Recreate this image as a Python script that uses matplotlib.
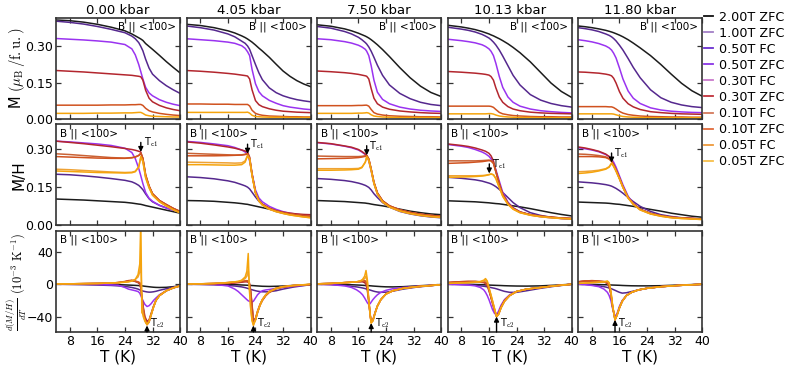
import matplotlib
matplotlib.use('Agg')
import matplotlib.pyplot as plt
from matplotlib.lines import Line2D

plt.rcParams['font.family'] = ['DejaVu Sans']
plt.rcParams['mathtext.fontset'] = 'cm'

pressures = ['0.00 kbar', '4.05 kbar', '7.50 kbar', '10.13 kbar', '11.80 kbar']
legend_labels = ['2.00T ZFC', '1.00T ZFC', '0.50T FC', '0.50T ZFC', '0.30T FC',
                 '0.30T ZFC', '0.10T FC', '0.10T ZFC', '0.05T FC', '0.05T ZFC']
legend_colors = ['#111111', '#a27fc6', '#6a2fd0', '#8a35e6', '#c97acb',
                 '#c0303a', '#d47a5c', '#e06a3a', '#ee9a3c', '#f7bf4a']
tc1_values = [28.6, 21.7, 18.4, 16.1, 13.7]
tc1_tips = [0.290, 0.283, 0.277, 0.205, 0.248]
tc2_values = [30.4, 23.4, 19.7, 18.2, 14.7]
tc2_tips = [-51, -51, -48, -40, -44]

# ---------------- 0.00 kbar ----------------
T_P0 = [4, 8, 12, 16, 20, 24, 26, 27, 28, 28.6, 29.2, 30, 31, 32, 34, 36, 38, 40]
M_P0_2T = [0.410, 0.407, 0.401, 0.392, 0.380, 0.365, 0.352, 0.344, 0.336, 0.331, 0.325, 0.312, 0.300, 0.288, 0.263, 0.237, 0.213, 0.190]
M_P0_1T = [0.405, 0.400, 0.393, 0.383, 0.371, 0.357, 0.343, 0.332, 0.316, 0.300, 0.282, 0.247, 0.210, 0.185, 0.158, 0.137, 0.120, 0.105]
M_P0_05T = [0.333, 0.330, 0.327, 0.323, 0.318, 0.308, 0.290, 0.265, 0.225, 0.195, 0.165, 0.130, 0.107, 0.095, 0.079, 0.068, 0.060, 0.054]
M_P0_03T = [0.200, 0.197, 0.194, 0.190, 0.186, 0.182, 0.180, 0.178, 0.176, 0.174, 0.160, 0.118, 0.085, 0.070, 0.055, 0.045, 0.038, 0.033]
M_P0_01T = [0.056, 0.056, 0.056, 0.056, 0.057, 0.057, 0.058, 0.058, 0.059, 0.059, 0.055, 0.043, 0.033, 0.028, 0.022, 0.018, 0.015, 0.013]
M_P0_005T = [0.022, 0.022, 0.022, 0.023, 0.023, 0.024, 0.024, 0.025, 0.026, 0.026, 0.022, 0.015, 0.012, 0.010, 0.009, 0.008, 0.007, 0.007]
MH_P0_2T = [0.104, 0.102, 0.100, 0.097, 0.094, 0.091, 0.088, 0.086, 0.084, 0.083, 0.081, 0.078, 0.075, 0.072, 0.066, 0.060, 0.054, 0.048]
MH_P0_1T = [0.202, 0.200, 0.196, 0.191, 0.185, 0.178, 0.172, 0.166, 0.158, 0.150, 0.141, 0.124, 0.105, 0.093, 0.079, 0.069, 0.060, 0.053]
MH_P0_05T = [0.333, 0.330, 0.326, 0.322, 0.316, 0.305, 0.288, 0.264, 0.225, 0.196, 0.165, 0.130, 0.107, 0.095, 0.079, 0.068, 0.060, 0.054]
MH_P0_03T = [0.333, 0.328, 0.323, 0.317, 0.311, 0.304, 0.300, 0.297, 0.293, 0.290, 0.262, 0.195, 0.155, 0.125, 0.098, 0.082, 0.067, 0.054]
MH_P0_01T_ZFC = [0.272, 0.270, 0.268, 0.266, 0.265, 0.265, 0.267, 0.270, 0.276, 0.284, 0.265, 0.200, 0.155, 0.125, 0.098, 0.082, 0.067, 0.055]
MH_P0_01T_FC = [0.283, 0.280, 0.276, 0.272, 0.268, 0.266, 0.268, 0.271, 0.277, 0.285, 0.266, 0.200, 0.155, 0.125, 0.098, 0.082, 0.067, 0.055]
MH_P0_005T_ZFC = [0.215, 0.213, 0.211, 0.209, 0.208, 0.207, 0.208, 0.212, 0.230, 0.272, 0.255, 0.190, 0.150, 0.120, 0.094, 0.077, 0.062, 0.050]
MH_P0_005T_FC = [0.222, 0.220, 0.217, 0.214, 0.211, 0.209, 0.210, 0.214, 0.232, 0.268, 0.252, 0.188, 0.148, 0.119, 0.093, 0.076, 0.061, 0.049]
TD_P0 = [4, 8, 12, 16, 20, 22, 24, 25, 26, 27, 27.8, 28.3, 28.6, 28.9, 29.3, 29.8, 30.4, 31, 31.6, 32.3, 33, 34, 36, 38, 40]
D_P0_2T = [0.5, 0.4, 0.2, 0, -0.3, -0.5, -0.8, -1, -1.2, -1.4, -1.6, -1.8, -1.9, -2, -2.2, -2.5, -2.8, -3.1, -3.4, -3.7, -3.9, -4, -3.8, -3.0, -2.0]
D_P0_1T = [0, -0.3, -0.6, -1, -1.5, -2, -2.8, -3.3, -4, -5, -6, -7, -7.5, -8, -8.5, -9, -9.5, -9.8, -9.7, -9.3, -8.7, -7.5, -5.5, -3.5, -2]
D_P0_05T = [0, 0, 0, -0.3, -0.8, -1.2, -4, -6, -7, -8, -9, -11, -14, -17, -21, -25, -27.5, -26.5, -24, -20, -17, -13, -8, -4.5, -2]
D_P0_03T = [0, 0.3, 0.6, 1, 1.5, 2, 3, 4, 4.5, 3.5, 2, 0, -5, -15, -28, -40, -46, -44, -36, -27, -20, -14, -8, -4.5, -2]
D_P0_01T_ZFC = [0.3, 0.5, 0.8, 1, 1.5, 2, 3.5, 4.5, 5, 4, 3, 2, -2, -15, -30, -44, -50, -47, -38, -28, -20, -14, -8, -4.5, -2]
D_P0_01T_FC = [0.3, 0.5, 0.8, 1, 1.5, 2, 3, 4, 4.5, 3.5, 2.5, 1.5, -3, -16, -31, -43, -49, -46, -37, -28, -20, -14, -8, -4.5, -2]
D_P0_005T_ZFC = [0.5, 0.5, 0.8, 1, 1.5, 2, 2.5, 3, 4, 6, 12, 25, 80, -35, -38, -45, -50, -46, -38, -28, -20, -14, -8, -4.5, -2]
D_P0_005T_FC = [0.5, 0.5, 0.8, 1, 1.5, 2, 2.5, 3, 4, 6, 9, 15, 30, -20, -40, -46, -50, -46, -38, -28, -20, -14, -8, -4.5, -2]

# ---------------- 4.05 kbar ----------------
T_P1 = [4, 8, 12, 16, 18, 20, 21, 21.7, 22.3, 23, 24, 25, 26, 28, 30, 32, 34, 36, 38, 40]
M_P1_2T = [0.392, 0.387, 0.378, 0.365, 0.356, 0.344, 0.337, 0.331, 0.325, 0.318, 0.306, 0.293, 0.281, 0.255, 0.226, 0.198, 0.176, 0.158, 0.144, 0.133]
M_P1_1T = [0.385, 0.378, 0.368, 0.352, 0.340, 0.322, 0.313, 0.302, 0.288, 0.262, 0.225, 0.190, 0.162, 0.128, 0.108, 0.095, 0.086, 0.079, 0.074, 0.070]
M_P1_05T = [0.332, 0.328, 0.324, 0.318, 0.313, 0.303, 0.292, 0.278, 0.262, 0.205, 0.145, 0.112, 0.095, 0.076, 0.064, 0.054, 0.048, 0.044, 0.040, 0.0375]
M_P1_03T = [0.200, 0.197, 0.193, 0.188, 0.185, 0.181, 0.179, 0.177, 0.165, 0.120, 0.075, 0.058, 0.050, 0.041, 0.035, 0.031, 0.029, 0.027, 0.026, 0.025]
M_P1_01T = [0.061, 0.061, 0.060, 0.060, 0.059, 0.059, 0.059, 0.059, 0.053, 0.035, 0.022, 0.017, 0.014, 0.011, 0.010, 0.009, 0.008, 0.008, 0.007, 0.007]
M_P1_005T = [0.026, 0.026, 0.026, 0.026, 0.026, 0.026, 0.026, 0.027, 0.023, 0.014, 0.009, 0.008, 0.007, 0.006, 0.006, 0.006, 0.005, 0.005, 0.005, 0.005]
MH_P1_2T = [0.098, 0.097, 0.095, 0.091, 0.089, 0.086, 0.084, 0.083, 0.081, 0.079, 0.076, 0.073, 0.070, 0.064, 0.056, 0.050, 0.044, 0.040, 0.036, 0.033]
MH_P1_1T = [0.192, 0.189, 0.184, 0.176, 0.170, 0.161, 0.156, 0.151, 0.144, 0.131, 0.112, 0.095, 0.084, 0.066, 0.055, 0.048, 0.043, 0.040, 0.037, 0.035]
MH_P1_05T = [0.332, 0.328, 0.322, 0.315, 0.308, 0.298, 0.290, 0.280, 0.255, 0.205, 0.140, 0.108, 0.093, 0.075, 0.063, 0.054, 0.048, 0.044, 0.040, 0.038]
MH_P1_03T = [0.330, 0.325, 0.318, 0.310, 0.305, 0.298, 0.294, 0.290, 0.270, 0.205, 0.130, 0.098, 0.083, 0.068, 0.058, 0.052, 0.048, 0.045, 0.043, 0.042]
MH_P1_01T_ZFC = [0.275, 0.275, 0.275, 0.276, 0.277, 0.278, 0.280, 0.283, 0.265, 0.200, 0.130, 0.098, 0.083, 0.067, 0.057, 0.050, 0.045, 0.041, 0.038, 0.036]
MH_P1_01T_FC = [0.285, 0.283, 0.281, 0.279, 0.278, 0.279, 0.281, 0.284, 0.266, 0.200, 0.130, 0.098, 0.083, 0.067, 0.057, 0.050, 0.045, 0.041, 0.038, 0.036]
MH_P1_005T_ZFC = [0.240, 0.240, 0.239, 0.238, 0.238, 0.240, 0.250, 0.275, 0.262, 0.198, 0.128, 0.096, 0.080, 0.064, 0.054, 0.047, 0.041, 0.037, 0.033, 0.030]
MH_P1_005T_FC = [0.250, 0.249, 0.248, 0.247, 0.246, 0.247, 0.255, 0.277, 0.263, 0.198, 0.128, 0.096, 0.080, 0.064, 0.054, 0.047, 0.041, 0.037, 0.033, 0.030]
TD_P1 = [4, 8, 12, 16, 18, 19, 20, 21, 21.5, 21.9, 22.2, 22.6, 23, 23.4, 24, 24.6, 25.3, 26, 27, 28, 30, 32, 35, 40]
D_P1_2T = [0, 0, 0, -0.3, -0.5, -0.7, -0.9, -1.1, -1.2, -1.3, -1.4, -1.5, -1.6, -1.7, -1.9, -2.1, -2.3, -2.5, -2.6, -2.7, -2.5, -2.2, -1.5, -0.5]
D_P1_1T = [0, -0.3, -0.7, -1.5, -2.2, -2.7, -3.3, -4.2, -4.8, -5.3, -5.8, -6.3, -6.8, -7.3, -8, -8.6, -9, -9.3, -9.4, -9.2, -8, -6, -3.5, -0.5]
D_P1_05T = [0, 0, -0.3, -2, -6, -9, -13, -17, -19, -20.5, -21, -21.5, -22, -21, -17, -13, -10, -8, -7, -6.5, -5, -4, -2.5, -0.5]
D_P1_03T = [0, 0.3, 0.6, 1, 1.5, 2, 2.5, 3, 3, 2.5, 1, -8, -25, -45, -42, -33, -25, -19, -13, -9, -5, -3, -1.5, -0.3]
D_P1_01T_ZFC = [0.3, 0.5, 1, 2, 2.5, 3, 3.5, 4, 4, 3.5, 2, -10, -28, -48, -44, -35, -26, -20, -14, -10, -5.5, -3.5, -1.8, -0.3]
D_P1_01T_FC = [0.3, 0.5, 1, 2, 2.5, 3, 3.5, 4, 4.5, 4, 2.5, -9, -27, -47, -44, -35, -26, -20, -14, -10, -5.5, -3.5, -1.8, -0.3]
D_P1_005T_ZFC = [0.3, 0.5, 1, 2, 3, 3.5, 5, 9, 16, 38, -5, -30, -45, -51, -44, -34, -26, -19, -13, -9, -5, -3, -1.5, 0]
D_P1_005T_FC = [0.3, 0.5, 1, 2, 3, 3.5, 4.5, 7, 10, 18, 0, -28, -44, -50, -44, -34, -26, -19, -13, -9, -5, -3, -1.5, 0]

# ---------------- 7.50 kbar ----------------
T_P2 = [4, 8, 12, 14, 16, 17, 18, 18.4, 19, 19.7, 20.5, 21.5, 23, 25, 28, 31, 34, 37, 40]
M_P2_2T = [0.390, 0.384, 0.373, 0.365, 0.355, 0.349, 0.343, 0.340, 0.335, 0.328, 0.319, 0.307, 0.287, 0.258, 0.212, 0.170, 0.135, 0.109, 0.092]
M_P2_1T = [0.383, 0.376, 0.362, 0.352, 0.338, 0.328, 0.316, 0.310, 0.298, 0.280, 0.255, 0.222, 0.180, 0.140, 0.105, 0.083, 0.068, 0.059, 0.054]
M_P2_05T = [0.332, 0.328, 0.320, 0.314, 0.305, 0.298, 0.288, 0.280, 0.262, 0.220, 0.160, 0.110, 0.080, 0.062, 0.048, 0.040, 0.035, 0.032, 0.030]
M_P2_03T = [0.198, 0.195, 0.191, 0.188, 0.184, 0.181, 0.178, 0.176, 0.165, 0.125, 0.085, 0.062, 0.048, 0.039, 0.032, 0.028, 0.025, 0.023, 0.022]
M_P2_01T = [0.054, 0.054, 0.054, 0.054, 0.055, 0.055, 0.056, 0.056, 0.052, 0.038, 0.025, 0.019, 0.015, 0.012, 0.010, 0.009, 0.008, 0.008, 0.007]
M_P2_005T = [0.022, 0.022, 0.022, 0.022, 0.023, 0.023, 0.024, 0.025, 0.023, 0.016, 0.011, 0.009, 0.007, 0.006, 0.005, 0.005, 0.005, 0.005, 0.004]
MH_P2_2T = [0.098, 0.096, 0.094, 0.092, 0.090, 0.089, 0.088, 0.087, 0.086, 0.084, 0.082, 0.080, 0.077, 0.072, 0.064, 0.056, 0.050, 0.045, 0.042]
MH_P2_1T = [0.185, 0.182, 0.177, 0.173, 0.167, 0.163, 0.158, 0.155, 0.150, 0.140, 0.125, 0.110, 0.090, 0.072, 0.055, 0.045, 0.038, 0.033, 0.030]
MH_P2_05T = [0.327, 0.322, 0.313, 0.307, 0.298, 0.290, 0.280, 0.273, 0.255, 0.215, 0.165, 0.125, 0.095, 0.076, 0.060, 0.050, 0.043, 0.038, 0.035]
MH_P2_03T = [0.328, 0.323, 0.314, 0.309, 0.300, 0.292, 0.282, 0.276, 0.262, 0.222, 0.170, 0.128, 0.097, 0.077, 0.061, 0.051, 0.044, 0.039, 0.036]
MH_P2_01T_ZFC = [0.263, 0.264, 0.265, 0.266, 0.268, 0.270, 0.273, 0.276, 0.262, 0.222, 0.170, 0.128, 0.097, 0.077, 0.061, 0.051, 0.044, 0.039, 0.036]
MH_P2_01T_FC = [0.274, 0.273, 0.272, 0.272, 0.272, 0.273, 0.275, 0.277, 0.263, 0.222, 0.170, 0.128, 0.097, 0.077, 0.061, 0.051, 0.044, 0.039, 0.036]
MH_P2_005T_ZFC = [0.218, 0.218, 0.219, 0.220, 0.222, 0.228, 0.250, 0.272, 0.258, 0.218, 0.166, 0.124, 0.093, 0.073, 0.057, 0.047, 0.040, 0.035, 0.032]
MH_P2_005T_FC = [0.224, 0.224, 0.224, 0.224, 0.225, 0.230, 0.250, 0.270, 0.257, 0.217, 0.165, 0.123, 0.092, 0.072, 0.056, 0.046, 0.039, 0.034, 0.031]
TD_P2 = [4, 8, 12, 14, 15.5, 16.5, 17.2, 17.8, 18.2, 18.6, 19, 19.4, 19.7, 20.2, 20.8, 21.5, 22.5, 24, 26, 29, 33, 40]
D_P2_2T = [0, 0, -0.3, -0.6, -0.9, -1.1, -1.3, -1.5, -1.6, -1.7, -1.8, -1.9, -2, -2.2, -2.4, -2.6, -2.9, -3.2, -3.3, -3, -2, -0.5]
D_P2_1T = [0, -0.5, -1.5, -2.5, -3.3, -4, -4.6, -5.2, -5.7, -6.2, -6.7, -7.2, -7.6, -8.3, -9, -9.6, -10, -9.8, -8.5, -6, -3.5, -0.5]
D_P2_05T = [0, -0.5, -2, -4, -7, -10, -13, -17, -20, -23, -25, -24, -22, -19, -16, -13, -10, -7.5, -5.5, -4, -2.5, -0.5]
D_P2_03T = [0.5, 1, 2, 2.5, 3, 3, 3, 2, 0, -8, -22, -38, -46, -44, -35, -27, -19, -12, -8, -5, -3, -0.5]
D_P2_01T_ZFC = [0.5, 1, 2, 2.5, 3, 3.5, 4, 4, 3, -5, -20, -38, -47, -45, -36, -27, -19, -12, -8, -5, -3, -0.5]
D_P2_01T_FC = [0.5, 1, 2, 2.5, 3, 3.5, 4.5, 4.5, 3.5, -4, -19, -37, -47, -45, -36, -27, -19, -12, -8, -5, -3, -0.5]
D_P2_005T_ZFC = [0.5, 1, 2, 2.5, 3, 4, 6, 10, 17, 5, -20, -38, -48, -45, -36, -27, -19, -12, -8, -5, -3, -0.5]
D_P2_005T_FC = [0.5, 1, 2, 2.5, 3, 4, 5, 7, 10, 2, -20, -38, -48, -45, -36, -27, -19, -12, -8, -5, -3, -0.5]

# ---------------- 10.13 kbar ----------------
T_P3 = [4, 8, 10, 12, 14, 15, 16, 16.6, 17.3, 18, 19, 20, 21.5, 23, 25, 28, 31, 34, 37, 40]
M_P3_2T = [0.388, 0.381, 0.376, 0.370, 0.362, 0.357, 0.352, 0.348, 0.344, 0.339, 0.332, 0.324, 0.311, 0.296, 0.274, 0.236, 0.192, 0.148, 0.113, 0.088]
M_P3_1T = [0.380, 0.372, 0.367, 0.360, 0.350, 0.343, 0.335, 0.328, 0.318, 0.306, 0.285, 0.260, 0.220, 0.180, 0.140, 0.100, 0.077, 0.063, 0.054, 0.048]
M_P3_05T = [0.330, 0.324, 0.320, 0.315, 0.307, 0.300, 0.290, 0.280, 0.262, 0.230, 0.175, 0.130, 0.090, 0.068, 0.052, 0.040, 0.033, 0.029, 0.026, 0.024]
M_P3_03T = [0.196, 0.193, 0.191, 0.189, 0.186, 0.184, 0.181, 0.175, 0.160, 0.128, 0.090, 0.068, 0.050, 0.040, 0.033, 0.027, 0.024, 0.022, 0.021, 0.020]
M_P3_01T = [0.052, 0.052, 0.052, 0.052, 0.052, 0.052, 0.052, 0.051, 0.047, 0.038, 0.026, 0.020, 0.016, 0.013, 0.011, 0.009, 0.008, 0.008, 0.007, 0.007]
M_P3_005T = [0.020, 0.020, 0.020, 0.020, 0.020, 0.020, 0.021, 0.021, 0.019, 0.015, 0.011, 0.009, 0.007, 0.006, 0.005, 0.005, 0.004, 0.004, 0.004, 0.004]
MH_P3_2T = [0.097, 0.095, 0.094, 0.093, 0.091, 0.090, 0.089, 0.088, 0.087, 0.086, 0.085, 0.083, 0.080, 0.077, 0.073, 0.066, 0.058, 0.050, 0.043, 0.037]
MH_P3_1T = [0.190, 0.186, 0.183, 0.180, 0.175, 0.171, 0.167, 0.164, 0.159, 0.153, 0.142, 0.130, 0.110, 0.090, 0.070, 0.050, 0.039, 0.032, 0.027, 0.024]
MH_P3_05T = [0.320, 0.313, 0.308, 0.300, 0.290, 0.283, 0.273, 0.263, 0.248, 0.220, 0.175, 0.130, 0.092, 0.070, 0.053, 0.041, 0.034, 0.030, 0.027, 0.025]
MH_P3_03T = [0.322, 0.316, 0.312, 0.306, 0.298, 0.293, 0.285, 0.275, 0.255, 0.215, 0.165, 0.123, 0.088, 0.068, 0.053, 0.042, 0.036, 0.032, 0.029, 0.027]
MH_P3_01T_ZFC = [0.245, 0.247, 0.248, 0.250, 0.252, 0.254, 0.256, 0.255, 0.245, 0.212, 0.163, 0.122, 0.087, 0.067, 0.052, 0.042, 0.036, 0.032, 0.029, 0.027]
MH_P3_01T_FC = [0.255, 0.255, 0.255, 0.255, 0.256, 0.257, 0.258, 0.256, 0.246, 0.212, 0.163, 0.122, 0.087, 0.067, 0.052, 0.042, 0.036, 0.032, 0.029, 0.027]
MH_P3_005T_ZFC = [0.190, 0.191, 0.192, 0.193, 0.195, 0.197, 0.200, 0.203, 0.200, 0.185, 0.150, 0.115, 0.083, 0.064, 0.050, 0.040, 0.034, 0.030, 0.027, 0.025]
MH_P3_005T_FC = [0.196, 0.196, 0.196, 0.196, 0.197, 0.198, 0.201, 0.203, 0.200, 0.185, 0.150, 0.115, 0.083, 0.064, 0.050, 0.040, 0.034, 0.030, 0.027, 0.025]
TD_P3 = [4, 7, 10, 12, 13.5, 14.5, 15, 15.5, 16, 16.5, 17, 17.6, 18.2, 18.8, 19.5, 20.5, 22, 24, 27, 31, 35, 40]
D_P3_2T = [0, 0, 0, -0.3, -0.5, -0.7, -0.8, -0.9, -1, -1.1, -1.2, -1.3, -1.4, -1.5, -1.6, -1.8, -2, -2.2, -2.3, -2, -1.2, 0]
D_P3_1T = [0, -0.3, -0.8, -1.3, -2, -2.5, -2.8, -3.2, -3.6, -4, -4.5, -5, -5.7, -6.5, -7.5, -8.8, -10, -10, -8, -5, -2.5, 0]
D_P3_05T = [0, -0.5, -1, -2, -4, -7, -10, -14, -19, -25, -31, -36, -38, -33, -26, -19, -13, -9, -6, -4, -2, 0]
D_P3_03T = [2, 3, 3, 3, 2.5, 2, 1, -2, -8, -15, -23, -32, -39, -36, -28, -20, -14, -9, -6, -4, -2, 0]
D_P3_01T_ZFC = [2, 3, 3.5, 3.5, 3, 3, 2.5, 0, -6, -14, -22, -31, -40, -37, -29, -21, -14, -9, -6, -4, -2, 0]
D_P3_01T_FC = [2, 3, 3.5, 3.5, 3, 3, 2, -1, -7, -15, -23, -32, -40, -37, -29, -21, -14, -9, -6, -4, -2, 0]
D_P3_005T_ZFC = [1, 1.5, 2, 2.5, 3.5, 5, 7, 4, -5, -12, -20, -30, -40, -37, -29, -21, -14, -9, -6, -4, -2, 0]
D_P3_005T_FC = [1, 1.5, 2, 2.5, 3, 4, 5, 3, -4, -12, -20, -30, -40, -37, -29, -21, -14, -9, -6, -4, -2, 0]

# ---------------- 11.80 kbar ----------------
T_P4 = [4, 6, 8, 10, 12, 13, 13.7, 14.3, 15, 16, 17, 18.5, 20, 22, 25, 28, 31, 34, 37, 40]
M_P4_2T = [0.385, 0.382, 0.378, 0.373, 0.367, 0.363, 0.360, 0.357, 0.353, 0.347, 0.340, 0.328, 0.314, 0.294, 0.262, 0.225, 0.185, 0.147, 0.116, 0.093]
M_P4_1T = [0.378, 0.374, 0.369, 0.362, 0.352, 0.346, 0.340, 0.333, 0.323, 0.305, 0.285, 0.250, 0.213, 0.170, 0.120, 0.087, 0.068, 0.057, 0.050, 0.046]
M_P4_05T = [0.328, 0.324, 0.319, 0.312, 0.302, 0.294, 0.285, 0.272, 0.252, 0.210, 0.165, 0.115, 0.085, 0.063, 0.045, 0.036, 0.031, 0.028, 0.026, 0.025]
M_P4_03T = [0.194, 0.193, 0.191, 0.189, 0.185, 0.182, 0.178, 0.168, 0.148, 0.112, 0.085, 0.062, 0.049, 0.038, 0.029, 0.025, 0.022, 0.020, 0.019, 0.018]
M_P4_01T = [0.050, 0.050, 0.050, 0.050, 0.050, 0.049, 0.049, 0.046, 0.040, 0.030, 0.023, 0.017, 0.014, 0.011, 0.009, 0.008, 0.007, 0.007, 0.006, 0.006]
M_P4_005T = [0.020, 0.020, 0.020, 0.020, 0.020, 0.020, 0.020, 0.019, 0.016, 0.012, 0.009, 0.007, 0.006, 0.005, 0.004, 0.004, 0.004, 0.004, 0.004, 0.004]
MH_P4_2T = [0.092, 0.091, 0.090, 0.089, 0.088, 0.087, 0.086, 0.085, 0.084, 0.083, 0.081, 0.078, 0.075, 0.070, 0.063, 0.056, 0.048, 0.042, 0.036, 0.032]
MH_P4_1T = [0.172, 0.170, 0.168, 0.165, 0.161, 0.158, 0.155, 0.151, 0.146, 0.137, 0.127, 0.110, 0.094, 0.075, 0.055, 0.042, 0.035, 0.030, 0.027, 0.024]
MH_P4_05T = [0.307, 0.303, 0.298, 0.291, 0.280, 0.272, 0.262, 0.250, 0.230, 0.195, 0.160, 0.115, 0.087, 0.064, 0.047, 0.038, 0.032, 0.029, 0.027, 0.025]
MH_P4_03T = [0.310, 0.306, 0.300, 0.293, 0.282, 0.272, 0.255, 0.240, 0.220, 0.187, 0.152, 0.110, 0.085, 0.063, 0.047, 0.038, 0.032, 0.029, 0.027, 0.025]
MH_P4_01T_ZFC = [0.272, 0.272, 0.272, 0.271, 0.268, 0.262, 0.253, 0.238, 0.218, 0.186, 0.152, 0.110, 0.085, 0.063, 0.047, 0.038, 0.032, 0.029, 0.027, 0.025]
MH_P4_01T_FC = [0.282, 0.281, 0.279, 0.276, 0.271, 0.264, 0.254, 0.239, 0.219, 0.186, 0.152, 0.110, 0.085, 0.063, 0.047, 0.038, 0.032, 0.029, 0.027, 0.025]
MH_P4_005T_ZFC = [0.205, 0.207, 0.210, 0.215, 0.222, 0.230, 0.245, 0.233, 0.214, 0.183, 0.150, 0.108, 0.083, 0.061, 0.045, 0.036, 0.030, 0.027, 0.025, 0.023]
MH_P4_005T_FC = [0.212, 0.213, 0.215, 0.218, 0.224, 0.232, 0.246, 0.234, 0.215, 0.183, 0.150, 0.108, 0.083, 0.061, 0.045, 0.036, 0.030, 0.027, 0.025, 0.023]
TD_P4 = [4, 6, 8, 10, 11.5, 12.5, 13, 13.5, 14, 14.7, 15.3, 16, 16.8, 18, 19.5, 21.5, 24, 28, 33, 40]
D_P4_2T = [0, 0, -0.2, -0.4, -0.6, -0.7, -0.8, -0.9, -1, -1.1, -1.2, -1.3, -1.5, -1.7, -1.9, -2, -2, -1.8, -1, 0]
D_P4_1T = [0, -0.3, -1, -2, -3, -4, -4.6, -5.3, -6.2, -7.5, -8.7, -10, -11, -10.5, -9, -7, -5, -3, -1.5, 0]
D_P4_05T = [0, -0.5, -1.5, -3, -6, -10, -14, -20, -30, -40, -36, -27, -20, -14, -10, -7, -5, -3, -1.5, 0]
D_P4_03T = [3, 4, 4, 3.5, 3, 1, -3, -12, -28, -43, -38, -29, -21, -14, -10, -7, -5, -3, -1.5, 0]
D_P4_01T_ZFC = [3, 4, 4.5, 4, 3.5, 2, -2, -11, -27, -44, -38, -29, -21, -14, -10, -7, -5, -3, -1.5, 0]
D_P4_01T_FC = [3, 4, 4, 3.5, 3, 1.5, -2.5, -12, -28, -44, -38, -29, -21, -14, -10, -7, -5, -3, -1.5, 0]
D_P4_005T_ZFC = [1, 1.5, 2, 2.5, 3, 4, 2, -8, -26, -44, -38, -29, -21, -14, -10, -7, -5, -3, -1.5, 0]
D_P4_005T_FC = [1, 1.5, 2, 2.5, 3, 3.5, 1.5, -9, -27, -44, -38, -29, -21, -14, -10, -7, -5, -3, -1.5, 0]

# plot colours for each curve type
c_2T, c_1T, c_05, c_03 = '#1c1c1c', '#55288e', '#9a33f0', '#b3262e'
c_01z, c_01f, c_005z, c_005f = '#d0521f', '#c96235', '#f5a40c', '#eea235'

T_grid = [T_P0, T_P1, T_P2, T_P3, T_P4]
TD_grid = [TD_P0, TD_P1, TD_P2, TD_P3, TD_P4]
row1 = [
    [M_P0_2T, M_P0_1T, M_P0_05T, M_P0_03T, M_P0_01T, M_P0_005T],
    [M_P1_2T, M_P1_1T, M_P1_05T, M_P1_03T, M_P1_01T, M_P1_005T],
    [M_P2_2T, M_P2_1T, M_P2_05T, M_P2_03T, M_P2_01T, M_P2_005T],
    [M_P3_2T, M_P3_1T, M_P3_05T, M_P3_03T, M_P3_01T, M_P3_005T],
    [M_P4_2T, M_P4_1T, M_P4_05T, M_P4_03T, M_P4_01T, M_P4_005T],
]
row1_colors = [c_2T, c_1T, c_05, c_03, c_01z, c_005z]
row2 = [
    [MH_P0_2T, MH_P0_1T, MH_P0_05T, MH_P0_03T, MH_P0_01T_FC, MH_P0_01T_ZFC, MH_P0_005T_FC, MH_P0_005T_ZFC],
    [MH_P1_2T, MH_P1_1T, MH_P1_05T, MH_P1_03T, MH_P1_01T_FC, MH_P1_01T_ZFC, MH_P1_005T_FC, MH_P1_005T_ZFC],
    [MH_P2_2T, MH_P2_1T, MH_P2_05T, MH_P2_03T, MH_P2_01T_FC, MH_P2_01T_ZFC, MH_P2_005T_FC, MH_P2_005T_ZFC],
    [MH_P3_2T, MH_P3_1T, MH_P3_05T, MH_P3_03T, MH_P3_01T_FC, MH_P3_01T_ZFC, MH_P3_005T_FC, MH_P3_005T_ZFC],
    [MH_P4_2T, MH_P4_1T, MH_P4_05T, MH_P4_03T, MH_P4_01T_FC, MH_P4_01T_ZFC, MH_P4_005T_FC, MH_P4_005T_ZFC],
]
row3 = [
    [D_P0_2T, D_P0_1T, D_P0_05T, D_P0_03T, D_P0_01T_FC, D_P0_01T_ZFC, D_P0_005T_FC, D_P0_005T_ZFC],
    [D_P1_2T, D_P1_1T, D_P1_05T, D_P1_03T, D_P1_01T_FC, D_P1_01T_ZFC, D_P1_005T_FC, D_P1_005T_ZFC],
    [D_P2_2T, D_P2_1T, D_P2_05T, D_P2_03T, D_P2_01T_FC, D_P2_01T_ZFC, D_P2_005T_FC, D_P2_005T_ZFC],
    [D_P3_2T, D_P3_1T, D_P3_05T, D_P3_03T, D_P3_01T_FC, D_P3_01T_ZFC, D_P3_005T_FC, D_P3_005T_ZFC],
    [D_P4_2T, D_P4_1T, D_P4_05T, D_P4_03T, D_P4_01T_FC, D_P4_01T_ZFC, D_P4_005T_FC, D_P4_005T_ZFC],
]
row23_colors = [c_2T, c_1T, c_05, c_03, c_01f, c_01z, c_005f, c_005z]

fig, axes = plt.subplots(3, 5, figsize=(7.89, 3.66), dpi=100)
fig.subplots_adjust(left=0.071, right=0.890, top=0.952, bottom=0.093,
                    wspace=0.052, hspace=0.055)

lw = 1.1
edge = '#333333'
for j in range(5):
    for i in range(3):
        ax = axes[i, j]
        ax.set_xlim(4, 40)
        ax.set_xticks([8, 16, 24, 32, 40])
        ax.tick_params(direction='in', top=True, right=True, length=3.5,
                       width=0.9, labelsize=9, pad=2, color=edge)
        for s in ax.spines.values():
            s.set_linewidth(1.2)
            s.set_color(edge)
        if i < 2:
            ax.tick_params(labelbottom=False)
        if j > 0:
            ax.tick_params(labelleft=False)
    # row 1
    ax = axes[0, j]
    for vals, c in zip(row1[j], row1_colors):
        ax.plot(T_grid[j], vals, color=c, lw=lw)
    ax.set_ylim(0, 0.42)
    ax.set_yticks([0, 0.15, 0.30])
    ax.set_yticklabels(['0.00', '0.15', '0.30'])
    ax.set_title(pressures[j], fontsize=9.5, pad=2.5)
    ax.text(0.97, 0.96, 'B || <100>', transform=ax.transAxes, ha='right',
            va='top', fontsize=7.5)
    # row 2
    ax = axes[1, j]
    for vals, c in zip(row2[j], row23_colors):
        ax.plot(T_grid[j], vals, color=c, lw=lw)
    ax.set_ylim(0, 0.40)
    ax.set_yticks([0, 0.15, 0.30])
    ax.set_yticklabels(['0.00', '0.15', '0.30'])
    ax.text(0.03, 0.96, 'B || <100>', transform=ax.transAxes, ha='left',
            va='top', fontsize=7.5)
    ax.annotate('', xy=(tc1_values[j], tc1_tips[j]),
                xytext=(tc1_values[j], tc1_tips[j] + 0.038),
                arrowprops=dict(arrowstyle='-|>', color='black', lw=1.0,
                                mutation_scale=7, shrinkA=0, shrinkB=0))
    ax.text(tc1_values[j] + 0.8, tc1_tips[j] + 0.010, r'T$_{\mathsf{c1}}$',
            fontsize=7, ha='left', va='bottom')
    # row 3
    ax = axes[2, j]
    for vals, c in zip(row3[j], row23_colors):
        ax.plot(TD_grid[j], vals, color=c, lw=lw)
    ax.set_ylim(-59, 66)
    ax.set_yticks([-40, 0, 40])
    ax.set_yticklabels(['\u221240', '0', '40'])
    ax.text(0.03, 0.96, 'B || <100>', transform=ax.transAxes, ha='left',
            va='top', fontsize=7.5)
    ax.annotate('', xy=(tc2_values[j], tc2_tips[j]),
                xytext=(tc2_values[j], -59),
                arrowprops=dict(arrowstyle='-|>', color='black', lw=1.0,
                                mutation_scale=7, shrinkA=0, shrinkB=0))
    ax.text(tc2_values[j] + 1.0, -56, r'T$_{\mathsf{c2}}$', fontsize=7,
            ha='left', va='bottom')
    ax.set_xlabel('T (K)', fontsize=11, labelpad=1)

axes[0, 0].set_ylabel(r'M $(\mu_{\mathrm{B}}\,/\mathrm{f.u.})$', fontsize=10.5)
axes[1, 0].set_ylabel('M/H', fontsize=11)
axes[2, 0].set_ylabel(r'$\frac{d(M/H)}{dT}$ $(10^{-3}\ \mathrm{K}^{-1})$',
                      fontsize=9)
axes[0, 0].yaxis.set_label_coords(-0.235, 0.5)
axes[1, 0].yaxis.set_label_coords(-0.235, 0.5)
axes[2, 0].yaxis.set_label_coords(-0.215, 0.5)

handles = [Line2D([0], [0], color=c, lw=1.3) for c in legend_colors]
fig.legend(handles, legend_labels, loc='upper left', bbox_to_anchor=(0.886, 0.985),
           frameon=False, fontsize=9.2, handlelength=0.7, handletextpad=0.45,
           labelspacing=0.24, borderaxespad=0)

fig.savefig('out.png', dpi=100)
